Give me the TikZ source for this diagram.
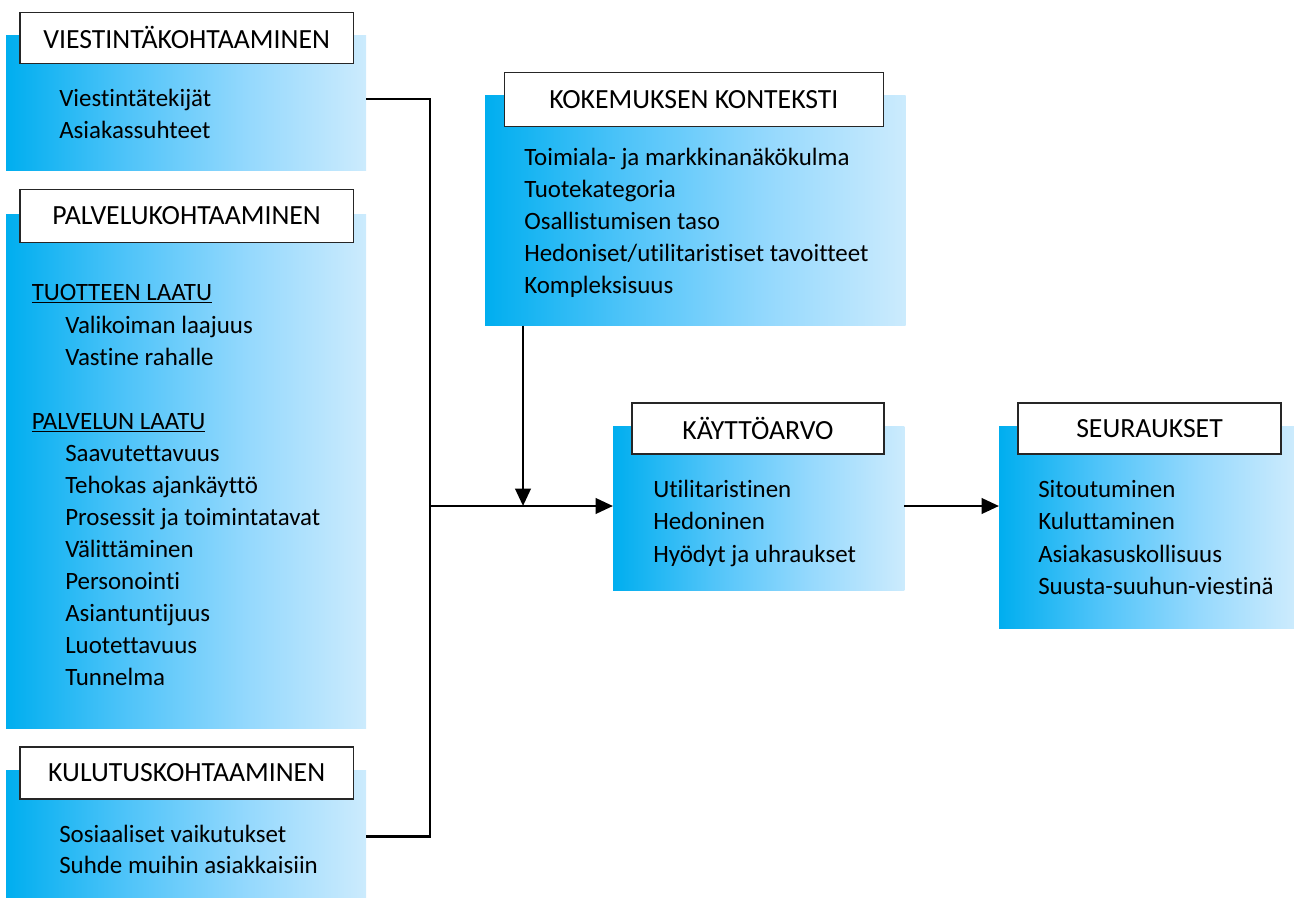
\documentclass[tikz,border=0pt]{standalone}
\usepackage{fontspec}
\setmainfont{Carlito}[Ligatures=NoCommon]
\usetikzlibrary{arrows.meta}
\definecolor{gA}{RGB}{0,174,239}
\definecolor{gB}{RGB}{80,196,249}
\definecolor{gC}{RGB}{150,217,253}
\definecolor{gD}{RGB}{204,235,253}
\pgfdeclarehorizontalshading{boxgrad}{100bp}{color(0bp)=(gA); color(25bp)=(gA); color(42bp)=(gB); color(59bp)=(gC); color(75bp)=(gD); color(100bp)=(gD)}
\tikzset{
  gbox/.style={shade, shading=boxgrad, draw=none, inner sep=0pt, outer sep=0pt, anchor=north west},
  tbox/.style={draw=black!85, line width=0.8pt, fill=white, inner sep=0pt, outer sep=0pt, anchor=north west},
  ttext/.style={inner sep=0pt, anchor=center, font=\fontsize{20.8}{24}\selectfont},
  item/.style={inner sep=0pt, anchor=base west},
  conn/.style={line width=2.1pt, black},
  arr/.style={conn, -{Triangle[length=13pt,width=11.5pt]}}
}
\begin{document}
\begin{tikzpicture}[x=0.75pt,y=-0.75pt,font=\fontsize{18.7}{23}\selectfont]
\useasboundingbox (0,0) rectangle (1294,898);
% ---- Viestintakohtaaminen
\node[gbox, minimum width=270pt, minimum height=101.5pt] (b1) at (6,35.5) {};
\node[tbox, minimum width=250pt, minimum height=38.25pt] (t1) at (20,12.3) {};
\node[ttext] (t1l) at (t1.center) {VIESTINTÄKOHTAAMINEN};
\node[item] (v1) at (59,107) {Viestintätekijät};
\node[item] (v2) at (59,138.5) {Asiakassuhteet};
% ---- Palvelukohtaaminen
\node[gbox, minimum width=270pt, minimum height=384.75pt] (b2) at (6,215) {};
\node[tbox, minimum width=250pt, minimum height=39.5pt] (t2) at (20,189.5) {};
\node[ttext] (t2l) at (t2.center) {PALVELUKOHTAAMINEN};
\node[item] (p0) at (31.5,300.7) {\underline{TUOTTEEN LAATU}};
\node[item] (p1) at (65,333) {Valikoiman laajuus};
\node[item] (p2) at (65,365) {Vastine rahalle};
\node[item] (p3) at (31.5,429) {\underline{PALVELUN LAATU}};
\node[item] (p4) at (65,461) {Saavutettavuus};
\node[item] (p5) at (65,493) {Tehokas ajankäyttö};
\node[item] (p6) at (65,525) {Prosessit ja toimintatavat};
\node[item] (p7) at (65,557.5) {Välittäminen};
\node[item] (p8) at (65,589.5) {Personointi};
\node[item] (p9) at (65,621.5) {Asiantuntijuus};
\node[item] (p10) at (65,653.5) {Luotettavuus};
\node[item] (p11) at (65,685.5) {Tunnelma};
% ---- Kulutuskohtaaminen
\node[gbox, minimum width=270pt, minimum height=95pt] (b3) at (6,770.7) {};
\node[tbox, minimum width=250pt, minimum height=39pt] (t3) at (20,747) {};
\node[ttext] (t3l) at (t3.center) {KULUTUSKOHTAAMINEN};
\node[item] (k1) at (59,842) {Sosiaaliset vaikutukset};
\node[item] (k2) at (59,873.5) {Suhde muihin asiakkaisiin};
% ---- Kokemuksen konteksti
\node[gbox, minimum width=315.5pt, minimum height=172.5pt] (b4) at (485,95.5) {};
\node[tbox, minimum width=284pt, minimum height=40.5pt] (t4) at (504.5,72.5) {};
\node[ttext] (t4l) at (t4.center) {KOKEMUKSEN KONTEKSTI};
\node[item] (c1) at (524,166) {Toimiala- ja markkinanäkökulma};
\node[item] (c2) at (524,198) {Tuotekategoria};
\node[item] (c3) at (524,229.5) {Osallistumisen taso};
\node[item] (c4) at (524,262) {Hedoniset/utilitaristiset tavoitteet};
\node[item] (c5) at (524,293.5) {Kompleksisuus};
% ---- Kayttoarvo
\node[gbox, minimum width=218.5pt, minimum height=123.25pt] (b5) at (613,426.5) {};
\node[tbox, minimum width=189pt, minimum height=38.25pt] (t5) at (632,403) {};
\node[ttext] (t5l) at (t5.center) {KÄYTTÖARVO};
\node[item] (a1) at (653,497) {Utilitaristinen};
\node[item] (a2) at (653,529.5) {Hedoninen};
\node[item] (a3) at (653,562.5) {Hyödyt ja uhraukset};
% ---- Seuraukset
\node[gbox, minimum width=221.25pt, minimum height=151.5pt] (b6) at (999,426.5) {};
\node[tbox, minimum width=197.25pt, minimum height=38.25pt] (t6) at (1018,403) {};
\node[ttext] (t6l) at (t6.center) {SEURAUKSET};
\node[item] (s1) at (1038,497) {Sitoutuminen};
\node[item] (s2) at (1038,529) {Kuluttaminen};
\node[item] (s3) at (1038,562) {Asiakasuskollisuus};
\node[item] (s4) at (1038,594) {Suusta-suuhun-viestinä};
% ---- connectors
\coordinate (jt) at (430,99);
\coordinate (jb) at (430,836.7);
\coordinate (jm) at (430,506);
\coordinate (kx) at (523,506);
\draw[conn] (b1.east |- jt) -- (jt) -- (jb) -- (b3.east |- jb);
\draw[arr] (jm) -- (b5.west |- jm);
\draw[arr] (b4.south -| kx) -- (kx);
\draw[arr] (b5.east |- jm) -- (b6.west |- jm);
\end{tikzpicture}
\end{document}
